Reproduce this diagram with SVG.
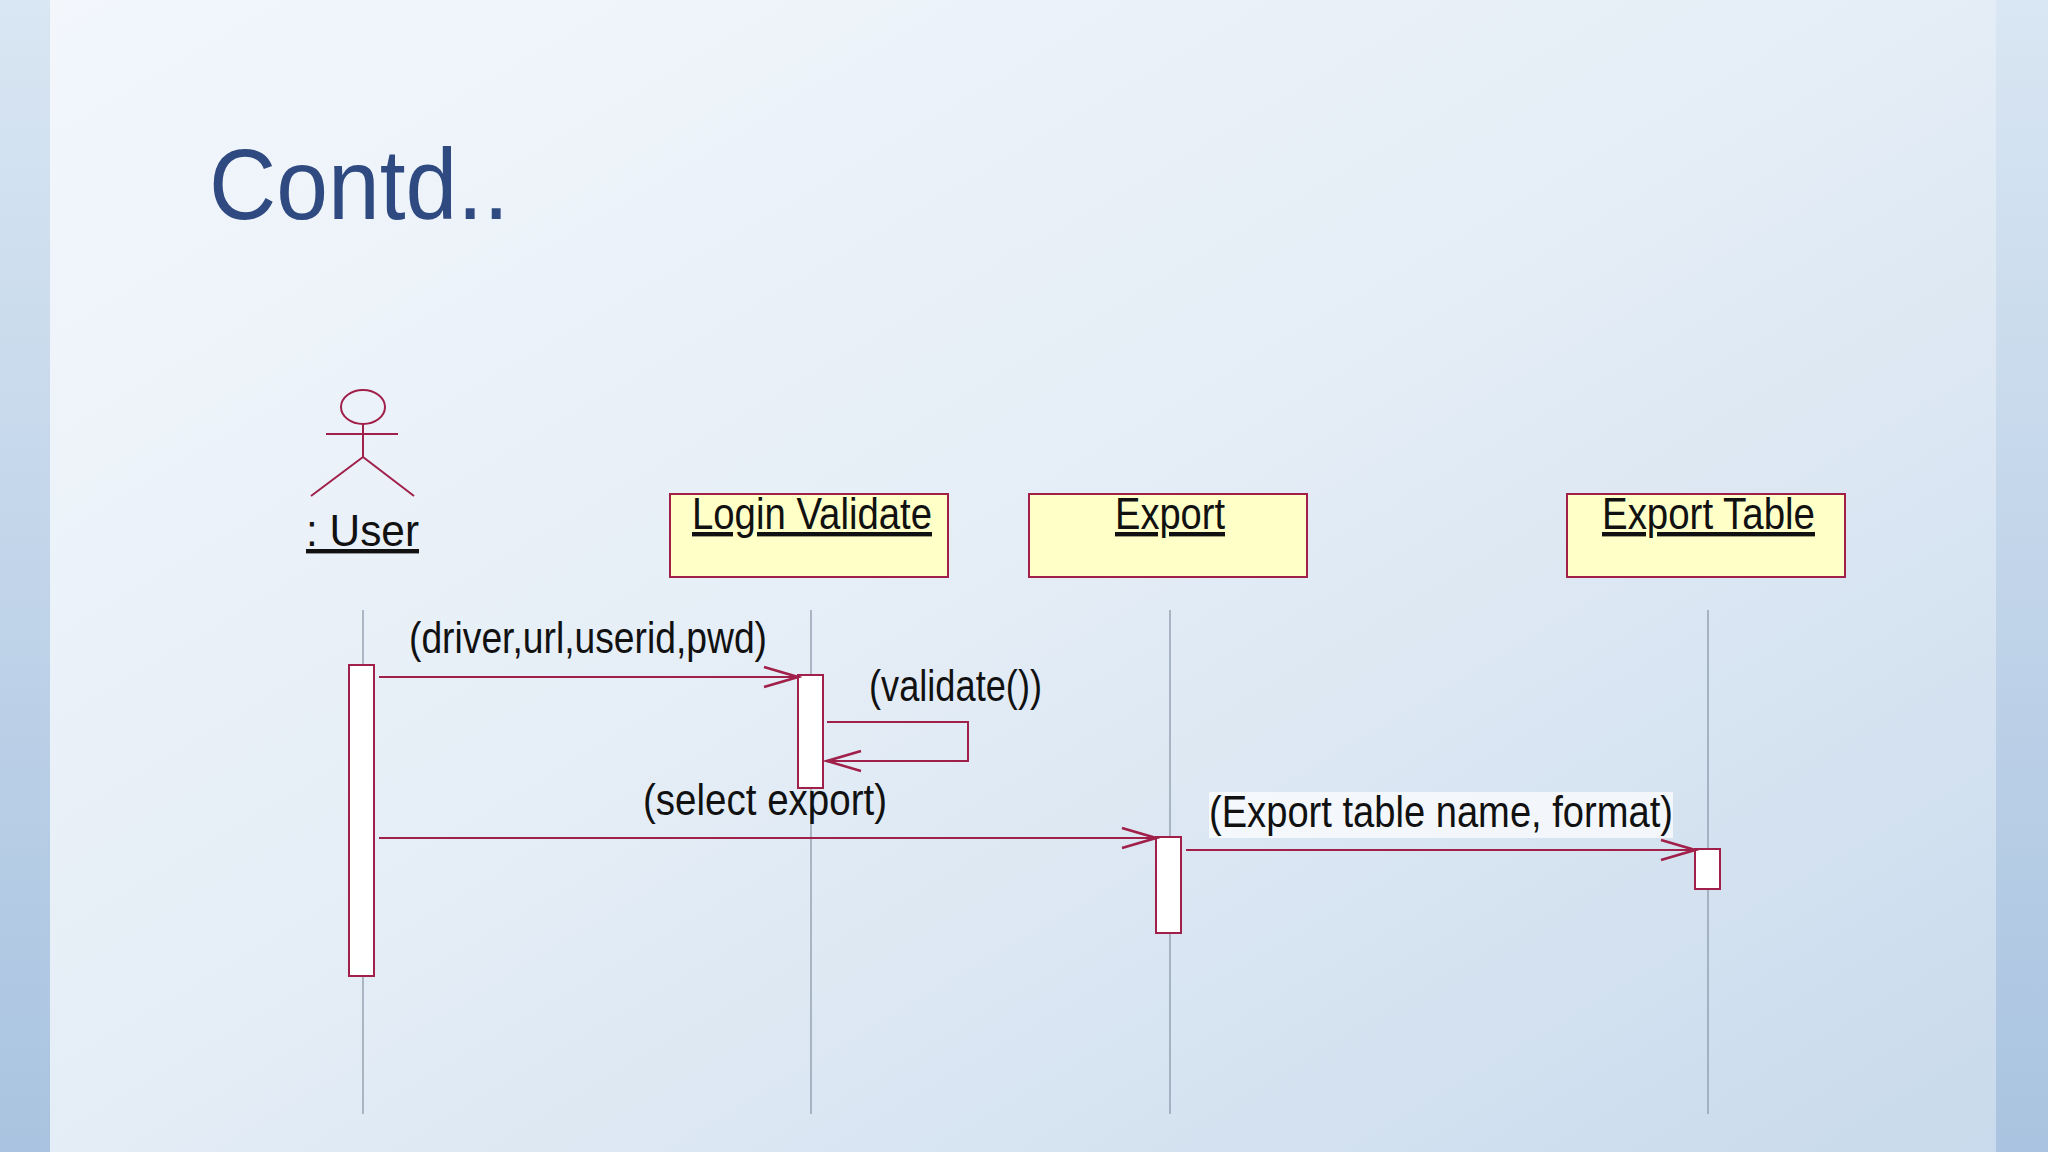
<svg xmlns="http://www.w3.org/2000/svg" width="2048" height="1152" viewBox="0 0 2048 1152">
<defs>
<linearGradient id="bg" x1="0" y1="0" x2="1" y2="1">
<stop offset="0" stop-color="#f3f7fc"/><stop offset="0.5" stop-color="#e4edf6"/><stop offset="1" stop-color="#c9daec"/>
</linearGradient>
<linearGradient id="edge" x1="0" y1="0" x2="0" y2="1">
<stop offset="0" stop-color="#d9e6f3"/><stop offset="1" stop-color="#a9c3e0"/>
</linearGradient>
<marker id="arr" markerWidth="40" markerHeight="24" refX="36" refY="12" orient="auto" markerUnits="userSpaceOnUse">
<path d="M2,2 L36,12 L2,22" fill="none" stroke="#a0204a" stroke-width="2.5"/>
</marker>
<style>
.ln{stroke:#a0204a;stroke-width:2;fill:none}
.life{stroke:#8a98a8;stroke-width:1.3}
.act{fill:#fff;stroke:#a0204a;stroke-width:2}
.box{fill:#ffffc8;stroke:#a0204a;stroke-width:2}
.t{font-family:"Liberation Sans",Arial,sans-serif;font-size:44px;fill:#111}
.u{text-decoration:underline}
</style>
</defs>
<rect width="2048" height="1152" fill="url(#edge)"/>
<rect x="50" y="0" width="1946" height="1152" fill="url(#bg)"/>
<text x="209" y="219" font-family="Liberation Sans,Arial,sans-serif" font-size="100" fill="#2f4a80" textLength="300" lengthAdjust="spacingAndGlyphs">Contd..</text>

<g id="user">
<ellipse cx="363" cy="407" rx="22" ry="17" class="ln"/>
<path d="M363,424 V457 M326,434 H398 M363,457 L311,496 M363,457 L414,496" class="ln"/>
<text x="306" y="546" class="t u" textLength="113" lengthAdjust="spacingAndGlyphs">: User</text>
</g>
<g id="login">
<rect x="670" y="494" width="278" height="83" class="box"/>
<text x="692" y="529" class="t u" textLength="240" lengthAdjust="spacingAndGlyphs">Login Validate</text>
</g>
<g id="export">
<rect x="1029" y="494" width="278" height="83" class="box"/>
<text x="1115" y="529" class="t u" textLength="110" lengthAdjust="spacingAndGlyphs">Export</text>
</g>
<g id="exporttable">
<rect x="1567" y="494" width="278" height="83" class="box"/>
<text x="1602" y="529" class="t u" textLength="213" lengthAdjust="spacingAndGlyphs">Export Table</text>
</g>

<g id="lifelines">
<line x1="363" y1="610" x2="363" y2="1114" class="life"/>
<line x1="811" y1="610" x2="811" y2="1114" class="life"/>
<line x1="1170" y1="610" x2="1170" y2="1114" class="life"/>
<line x1="1708" y1="610" x2="1708" y2="1114" class="life"/>
</g>
<g id="activations">
<rect x="349" y="665" width="25" height="311" class="act"/>
<rect x="798" y="675" width="25" height="113" class="act"/>
<rect x="1156" y="837" width="25" height="96" class="act"/>
<rect x="1695" y="849" width="25" height="40" class="act"/>
</g>
<g id="connectors">
<line x1="379" y1="677" x2="798" y2="677" class="ln" marker-end="url(#arr)"/>
<path d="M827,722 H968 V761 H827" class="ln" marker-end="url(#arr)"/>
<line x1="379" y1="838" x2="1156" y2="838" class="ln" marker-end="url(#arr)"/>
<line x1="1186" y1="850" x2="1695" y2="850" class="ln" marker-end="url(#arr)"/>
</g>
<g id="labels">
<text x="409" y="653" class="t" textLength="358" lengthAdjust="spacingAndGlyphs">(driver,url,userid,pwd)</text>
<text x="869" y="701" class="t" textLength="173" lengthAdjust="spacingAndGlyphs">(validate())</text>
<text x="643" y="815" class="t" textLength="244" lengthAdjust="spacingAndGlyphs">(select export)</text>
<rect x="1209" y="792" width="464" height="46" fill="#ffffff" opacity="0.7"/>
<text x="1209" y="827" class="t" textLength="464" lengthAdjust="spacingAndGlyphs">(Export table name, format)</text>
</g>
</svg>
